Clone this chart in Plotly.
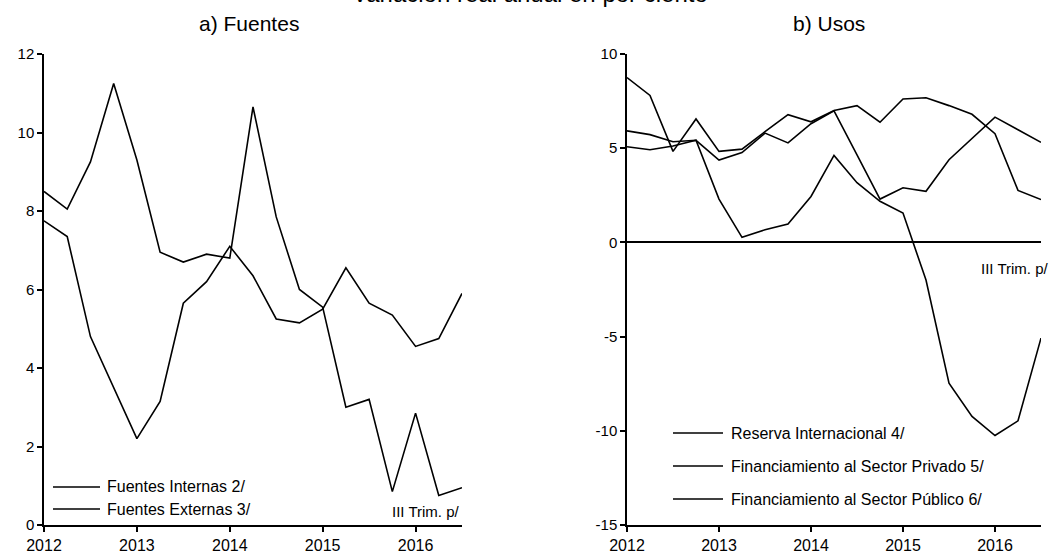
import plotly.graph_objects as go

W, H = 1059, 554

quarters = [2012.0, 2012.25, 2012.5, 2012.75, 2013.0, 2013.25, 2013.5, 2013.75,
            2014.0, 2014.25, 2014.5, 2014.75, 2015.0, 2015.25, 2015.5, 2015.75,
            2016.0, 2016.25, 2016.5]
year_ticks = [2012, 2013, 2014, 2015, 2016]
year_labels = ["2012", "2013", "2014", "2015", "2016"]

left_ticks = [0, 2, 4, 6, 8, 10, 12]
left_tick_labels = ["0", "2", "4", "6", "8", "10", "12"]
right_ticks = [-15, -10, -5, 0, 5, 10]
right_tick_labels = ["-15", "-10", "-5", "0", "5", "10"]

# a) Fuentes
fuentes_externas = [8.5, 8.05, 9.25, 11.25, 9.3, 6.95, 6.7, 6.9, 6.8, 10.65,
                    7.85, 6.0, 5.55, 3.0, 3.2, 0.85, 2.85, 0.75, 0.95]
fuentes_internas = [7.75, 7.35, 4.8, 3.5, 2.2, 3.15, 5.65, 6.2, 7.1, 6.35,
                    5.25, 5.15, 5.5, 6.55, 5.65, 5.35, 4.55, 4.75, 5.9]

# b) Usos
sector_publico = [8.75, 7.8, 4.83, 6.55, 4.83, 4.95, 5.88, 6.78, 6.4, 7.0,
                  7.26, 6.38, 7.61, 7.68, 7.26, 6.8, 5.77, 2.76, 2.27]
sector_privado = [5.92, 5.72, 5.34, 5.42, 4.37, 4.77, 5.8, 5.28, 6.3, 6.98,
                  4.65, 2.3, 2.9, 2.71, 4.39, 5.5, 6.65, 5.98, 5.31]
reserva_internacional = [5.08, 4.92, 5.12, 5.42, 2.3, 0.27, 0.67, 0.98, 2.44, 4.62,
                         3.17, 2.18, 1.56, -2.0, -7.47, -9.24, -10.25, -9.47, -5.08]

left_names = ["Fuentes Internas 2/", "Fuentes Externas 3/"]
right_names = ["Reserva Internacional 4/", "Financiamiento al Sector Privado 5/",
               "Financiamiento al Sector Público 6/"]

FONT = "Arial, Liberation Sans, sans-serif"
LW = 1.6


def px(x):
    return x / W


def py(y):
    return 1 - y / H


fig = go.Figure()
line = dict(color="black", width=LW)
fig.add_trace(go.Scatter(x=quarters, y=fuentes_internas, name=left_names[0], mode="lines",
                         line=line, xaxis="x", yaxis="y", showlegend=False))
fig.add_trace(go.Scatter(x=quarters, y=fuentes_externas, name=left_names[1], mode="lines",
                         line=line, xaxis="x", yaxis="y", showlegend=False))
fig.add_trace(go.Scatter(x=quarters, y=reserva_internacional, name=right_names[0], mode="lines",
                         line=line, xaxis="x2", yaxis="y2", showlegend=False))
fig.add_trace(go.Scatter(x=quarters, y=sector_privado, name=right_names[1], mode="lines",
                         line=line, xaxis="x2", yaxis="y2", showlegend=False))
fig.add_trace(go.Scatter(x=quarters, y=sector_publico, name=right_names[2], mode="lines",
                         line=line, xaxis="x2", yaxis="y2", showlegend=False))

xcommon = dict(range=[2012, 2016.5], tickvals=year_ticks, ticktext=year_labels,
               showline=True, linecolor="black", linewidth=1.5, ticks="outside",
               ticklen=5, tickwidth=1.5, tickcolor="black", showgrid=False,
               zeroline=False, automargin=False,
               tickfont=dict(family=FONT, size=16, color="black"))
ycommon = dict(showline=True, linecolor="black", linewidth=1.5, ticks="outside",
               ticklen=5, tickwidth=1.5, tickcolor="black", showgrid=False,
               automargin=False, tickfont=dict(family=FONT, size=15, color="black"))

ydom = [py(525), py(54)]

annotations = [
    dict(text="Variación real anual en por ciento", x=px(530), y=py(9), xref="paper", yref="paper",
         xanchor="center", yanchor="bottom", showarrow=False,
         font=dict(family=FONT, size=24, color="black")),
    dict(text="a) Fuentes", x=px(249), y=py(23), xref="paper", yref="paper",
         xanchor="center", yanchor="middle", showarrow=False,
         font=dict(family=FONT, size=21, color="black")),
    dict(text="b) Usos", x=px(829), y=py(23), xref="paper", yref="paper",
         xanchor="center", yanchor="middle", showarrow=False,
         font=dict(family=FONT, size=21, color="black")),
    dict(text="III Trim. p/", x=px(462), y=py(511), xref="paper", yref="paper",
         xanchor="right", yanchor="middle", showarrow=False,
         font=dict(family=FONT, size=15, color="black")),
    dict(text="III Trim. p/", x=px(1051), y=py(268), xref="paper", yref="paper",
         xanchor="right", yanchor="middle", showarrow=False,
         font=dict(family=FONT, size=15, color="black")),
]
shapes = []

left_leg_y = [487, 509]
for name, yy in zip(left_names, left_leg_y):
    shapes.append(dict(type="line", xref="paper", yref="paper", x0=px(53), x1=px(100),
                       y0=py(yy), y1=py(yy), line=dict(color="black", width=LW)))
    annotations.append(dict(text=name, x=px(105), y=py(yy), xref="paper", yref="paper",
                            xanchor="left", yanchor="middle", showarrow=False,
                            font=dict(family=FONT, size=16, color="black")))

right_leg_y = [433, 466, 499]
for name, yy in zip(right_names, right_leg_y):
    shapes.append(dict(type="line", xref="paper", yref="paper", x0=px(673), x1=px(723),
                       y0=py(yy), y1=py(yy), line=dict(color="black", width=LW)))
    annotations.append(dict(text=name, x=px(729), y=py(yy), xref="paper", yref="paper",
                            xanchor="left", yanchor="middle", showarrow=False,
                            font=dict(family=FONT, size=16, color="black")))

fig.update_layout(
    width=W, height=H,
    margin=dict(l=0, r=0, t=0, b=0, pad=0),
    paper_bgcolor="white", plot_bgcolor="white",
    showlegend=False,
    font=dict(family=FONT, color="black"),
    xaxis=dict(domain=[px(44), px(462)], anchor="y", **xcommon),
    yaxis=dict(domain=ydom, anchor="x", range=[0, 12], tickvals=left_ticks,
               ticktext=left_tick_labels, zeroline=False, **ycommon),
    xaxis2=dict(domain=[px(627), px(1041)], anchor="y2", **xcommon),
    yaxis2=dict(domain=ydom, anchor="x2", range=[-15, 10], tickvals=right_ticks,
                ticktext=right_tick_labels, zeroline=True, zerolinecolor="black",
                zerolinewidth=1.6, **ycommon),
    annotations=annotations,
    shapes=shapes,
)

fig.write_html(
    "out.html",
    config={"displayModeBar": False},
    post_script="document.body.style.margin='0';document.body.style.overflow='hidden';",
)
